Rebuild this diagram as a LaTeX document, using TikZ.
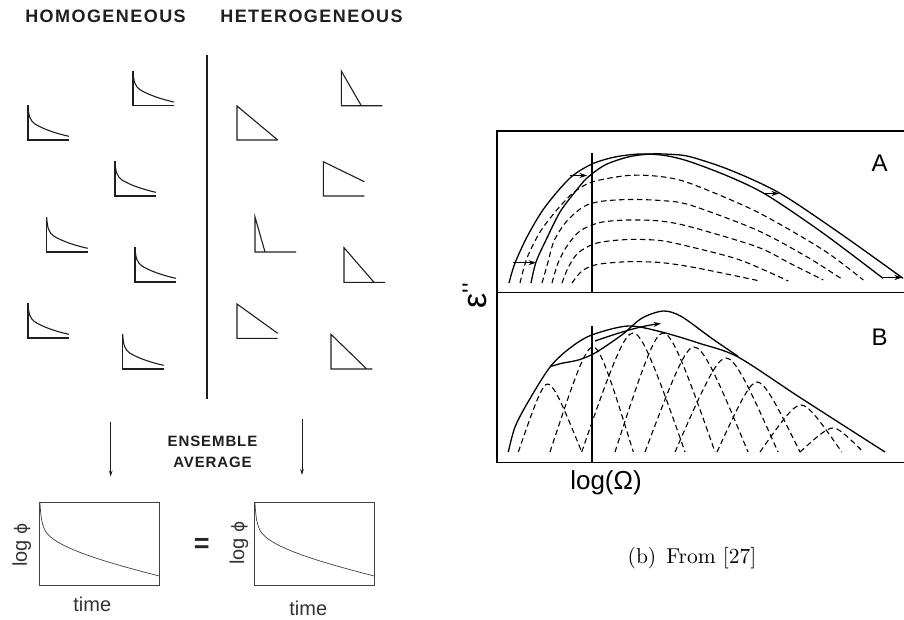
\documentclass[tikz,border=0pt]{standalone}
\usepackage{fontspec}
\newfontfamily\hel{Liberation Sans}
\newfontfamily\dejavu{DejaVu Sans}
\usetikzlibrary{arrows.meta}
\tikzset{
  icon/.style={draw=black!88, line width=1.1pt},
  divider/.style={draw=black!88, line width=1.3pt},
  avgarrow/.style={draw=black!88, line width=0.9pt, -{Stealth[length=6pt,width=3.6pt]}},
  pbox/.style={draw=black!75, line width=0.8pt},
  pcurve/.style={draw=black!75, line width=0.7pt},
  headtext/.style={font=\fontsize{18}{20}\selectfont\hel\bfseries\addfontfeatures{LetterSpace=8}, text=black!88, inner sep=0pt},
  enstext/.style={font=\fontsize{15}{17}\selectfont\hel\bfseries\addfontfeatures{LetterSpace=6}, text=black!88, inner sep=0pt},
  axlab/.style={font=\fontsize{20}{22}\selectfont\hel, text=black!80, inner sep=0pt},
  eqtext/.style={font=\fontsize{27}{28}\selectfont\hel\bfseries, text=black!85, inner sep=0pt},
  frm/.style={draw=black, line width=1.7pt},
  sol/.style={draw=black, line width=1.3pt},
  dsh/.style={draw=black, line width=1.1pt, dash pattern=on 5.5pt off 3.5pt},
  shiftarrow/.style={draw=black, line width=1pt, -{Stealth[length=7.5pt,width=5pt]}},
  lettertext/.style={font=\fontsize{24}{26}\selectfont\hel, inner sep=0pt},
  homoicon/.pic={
    \draw[icon] (0,-34.7) -- (0,0) -- (41,0);
    \draw[icon] (0,-34.7) .. controls (0.6,-24) and (2,-19.5) .. (7,-16) .. controls (15,-11) and (28,-6.5) .. (41,-3.7);
  },
  decaycurve/.pic={
    \draw[pcurve] (0.7,0.5) .. controls (1.5,14) and (2.5,24.5) .. (8,31) .. controls (20,45) and (60,58) .. (120,73.3);
  }
}
% dashed hump: left foot, peak x, peak y, right foot (feet on y=452)
\newcommand\humpB[4]{%
  \draw[dsh] (#1,452) .. controls ({#1+0.6*(#2-#1)},{452-0.75*(452-#3)}) and ({#2-0.17*(#2-#1)},#3) .. (#2,#3)
    .. controls ({#2+0.17*(#4-#2)},#3) and ({#4-0.6*(#4-#2)},{452-0.75*(452-#3)}) .. (#4,452);}
\begin{document}
\begin{tikzpicture}[x=1pt,y=-1pt]
\useasboundingbox (0,0) rectangle (904,619);
\fill[white] (0,0) rectangle (904,619);

% ---------------- left panel ----------------
\node[headtext] (homo) at (105.5,16.7) {HOMOGENEOUS};
\node[headtext] (hetero) at (311.5,16.7) {HETEROGENEOUS};

\coordinate (divT) at (207,55);
\coordinate (divB) at (207,399);
\draw[divider] (divT) -- (divB);

% homogeneous icons
\pic at (133,105.7) {homoicon};
\pic at (28,140) {homoicon};
\pic at (115,196) {homoicon};
\pic at (46.7,252) {homoicon};
\pic at (135,282) {homoicon};
\pic at (28,338) {homoicon};
\pic at (122.7,369) {homoicon};

% heterogeneous icons
\draw[icon] (382.3,105.7) -- (341.3,105.7) -- (341.3,71) -- (361.3,105.7);
\draw[icon] (277.7,140) -- (237,140) -- (237,106) -- (277.7,140);
\draw[icon] (364.3,196) -- (323.3,196) -- (323.3,161.7) -- (364.3,181.7);
\draw[icon] (296,252) -- (255,252) -- (255,217) -- (265,252);
\draw[icon] (385,282.3) -- (344,282.3) -- (344,247.7) -- (374,282.3);
\draw[icon] (277.7,338.3) -- (237,338.3) -- (237,304) -- (277.7,333.3);
\draw[icon] (372.3,369) -- (331,369) -- (331,334.3) -- (366.7,369);

% ensemble average
\coordinate (la1) at (110.7,421.7);
\coordinate (la2) at (110.7,476.5);
\coordinate (ra1) at (302,419.3);
\coordinate (ra2) at (302,475);
\draw[avgarrow] (la1) -- (la2);
\draw[avgarrow] (ra1) -- (ra2);
\node[enstext] (ens1) at (212.5,441.8) {ENSEMBLE};
\node[enstext] (ens2) at (212.5,462.2) {AVERAGE};

% bottom plots
\begin{scope}[shift={(39.3,502.7)}]
  \draw[pbox] (0,0) rectangle (120,83);
  \pic at (0,0) {decaycurve};
\end{scope}
\begin{scope}[shift={(254.3,502.7)}]
  \draw[pbox] (0,0) rectangle (119.7,83);
  \pic at (0,0) {decaycurve};
\end{scope}
\node[axlab, rotate=90] (ylab1) at (21.7,545) {log {\dejavu\fontsize{17}{20}\selectfont ϕ}};
\node[axlab, rotate=90] (ylab2) at (239,543) {log {\dejavu\fontsize{17}{20}\selectfont ϕ}};
\node[axlab, anchor=base] (xlab1) at (92.3,611) {time};
\node[axlab, anchor=base] (xlab2) at (308.3,615.7) {time};
\node[eqtext] (eq) at (201.7,545.7) {=};

% ---------------- right panel ----------------
\draw[frm] (904,131) -- (496.7,131) -- (496.7,462.5) -- (904,462.5);
\draw[frm] (496.7,292.5) -- (904,292.5);
\draw[sol] (592,153.3) -- (592,292.5);
\draw[sol] (592,326) -- (592,462.5);

\node[lettertext] (labA) at (879.5,163.7) {A};
\node[lettertext] (labB) at (879.5,337.7) {B};
\node[lettertext, font=\fontsize{26}{28}\selectfont\hel] (omega) at (606,483) {log(Ω)};
\node[rotate=90, inner sep=0pt] (eps) at (474.5,296) {\fontsize{34}{34}\selectfont\hel ε\raisebox{7pt}{\fontsize{24}{24}\selectfont\char"27\kern1.5pt\char"27}};

% panel A solid curves
\draw[sol] plot[smooth] coordinates {(509,283) (515,263) (528,235) (545,207) (570,178) (592,164) (615,157) (640,154) (665,155.5) (690,161.7) (730,177) (766.7,195) (823.3,233.3) (883,278.3)};
\draw[sol] plot[smooth] coordinates {(531,283) (536,262) (546,240) (560,212) (575,192) (587,178) (605,165) (628,157) (650,154) (670,154.3) (690,156.7) (730,170) (780,193.3) (840,233.3) (903,278.3)};
% panel A dashed curves
\draw[dsh] plot[smooth] coordinates {(520,283) (527,258) (540,232) (556,211) (573,193) (592,182) (628,175.5) (660,176.5) (690,183.3) (756.7,211.7) (823.3,250) (863.3,280)};
\draw[dsh] plot[smooth] coordinates {(542,283) (548,262) (554,241) (566,222) (583,207) (600,201.5) (628,199.5) (660,200.5) (690,205) (756.7,230) (806.7,256.7) (843.3,280)};
\draw[dsh] plot[smooth] coordinates {(552,283) (558,263) (567,246) (580,231) (600,222.5) (628,220) (660,221) (690,226.7) (756.7,246.7) (790,263.3) (823.3,280)};
\draw[dsh] plot[smooth] coordinates {(562,283) (568,268) (578,253) (597,243) (628,239.5) (660,240.5) (690,246.7) (740,260) (788.3,281)};
\draw[dsh] plot[smooth] coordinates {(572,283) (582,271) (597,264.5) (628,261.7) (660,262.5) (690,266.7) (723.3,273.3) (760,281)};
% panel A shift arrows
\coordinate (a1s) at (513,262.7); \coordinate (a1e) at (536,262.7);
\coordinate (a2s) at (570,175.5); \coordinate (a2e) at (587,175.5);
\coordinate (a3s) at (763,193.5); \coordinate (a3e) at (779,193.5);
\coordinate (a4s) at (883,277.5); \coordinate (a4e) at (902,277.5);
\draw[shiftarrow] (a1s) -- (a1e);
\draw[shiftarrow] (a2s) -- (a2e);
\draw[shiftarrow] (a3s) -- (a3e);
\draw[shiftarrow] (a4s) -- (a4e);

% panel B solid curves
\draw[sol] plot[smooth] coordinates {(508.3,452) (515,427) (528,402) (550,367) (570,348) (591.7,335) (628,326) (661.7,332) (700,343.5) (738,357) (800,397.5) (885,452)};
\draw[sol] plot[smooth] coordinates {(550,366.7) (561.7,363.3) (578.3,360) (595,353) (621.7,335) (641.7,318.3) (663.3,311) (681.7,316.7) (711.7,338.3) (738.3,356.5)};
\coordinate (b1s) at (595,341);
\coordinate (b1e) at (661,323.5);
\draw[shiftarrow, line width=1.3pt] (b1s) .. controls (615,334) and (638,326.5) .. (b1e);
% panel B dashed humps
\humpB{518.3}{547.5}{384}{581.7}
\humpB{550}{593}{347}{633.3}
\humpB{581.7}{633}{333}{685}
\humpB{615}{663}{333}{715}
\humpB{645}{694}{347}{748}
\humpB{675}{726}{358}{778}
\humpB{717}{757}{382}{800}
\humpB{760}{801}{405}{841.7}
\humpB{800}{833}{428}{863.3}

% caption
\node[scale=2.15, inner sep=0pt] (cap) at (692,558.5) {(b)\hspace{4.7pt}From [27]};
\end{tikzpicture}
\end{document}
